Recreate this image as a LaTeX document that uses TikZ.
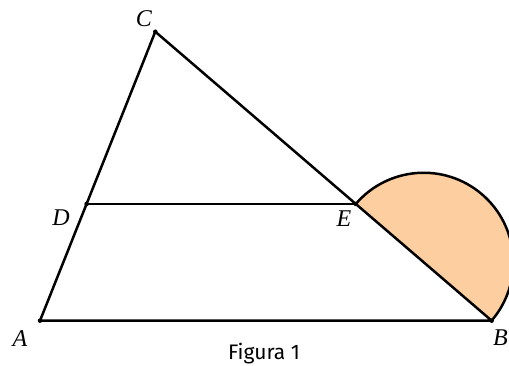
\documentclass[tikz,border=0pt]{standalone}
\usepackage{fontspec}
\setmainfont{Liberation Serif}
\newfontfamily\capfont{Fira Sans}
\usetikzlibrary{calc}
\definecolor{semifill}{RGB}{253,207,160}
\begin{document}
\begin{tikzpicture}[x=1pt,y=1pt,
  edge/.style={line width=2.5pt,line cap=round,line join=round},
  pt/.style={circle,fill=black,inner sep=0pt,minimum size=4.5pt},
  lab/.style={font=\fontsize{24}{26}\selectfont\itshape,inner sep=0pt}]
\useasboundingbox (0,0) rectangle (509,365);
\clip (0,0) rectangle (509,365);
\coordinate (A) at (40,44.3);
\coordinate (B) at (491.7,44.3);
\coordinate (C) at (155.3,333.3);
\coordinate (D) at ($(A)!0.404!(C)$);
\coordinate (E) at ($(B)!0.404!(C)$);
\coordinate (M) at ($(E)!0.5!(B)$);
% semicircle on EB
\path[fill=semifill] let \p1=($(E)-(M)$), \n1={atan2(\y1,\x1)}, \n2={veclen(\x1,\y1)} in
  (E) arc[start angle=\n1, end angle=\n1-180, radius=\n2] -- cycle;
\draw[edge] let \p1=($(E)-(M)$), \n1={atan2(\y1,\x1)}, \n2={veclen(\x1,\y1)} in
  (E) arc[start angle=\n1, end angle=\n1-180, radius=\n2];
% triangle
\draw[edge] (A) -- (B) -- (C) -- cycle;
\draw[edge] (D) -- (E);
\foreach \p in {A,B,C,D,E} \node[pt] at (\p) {};
% labels
\node[lab] (lC) at (144,346) {C};
\node[lab] (lD) at (61,147) {D};
\node[lab] (lE) at (344,146) {E};
\node[lab] (lA) at (20,26) {A};
\node[lab,anchor=base east] (lB) at (508,20) {B};
\node[font=\capfont\fontsize{21}{24}\selectfont,inner sep=0pt,anchor=base] (cap) at (264,5.5) {Figura 1};
\end{tikzpicture}
\end{document}
